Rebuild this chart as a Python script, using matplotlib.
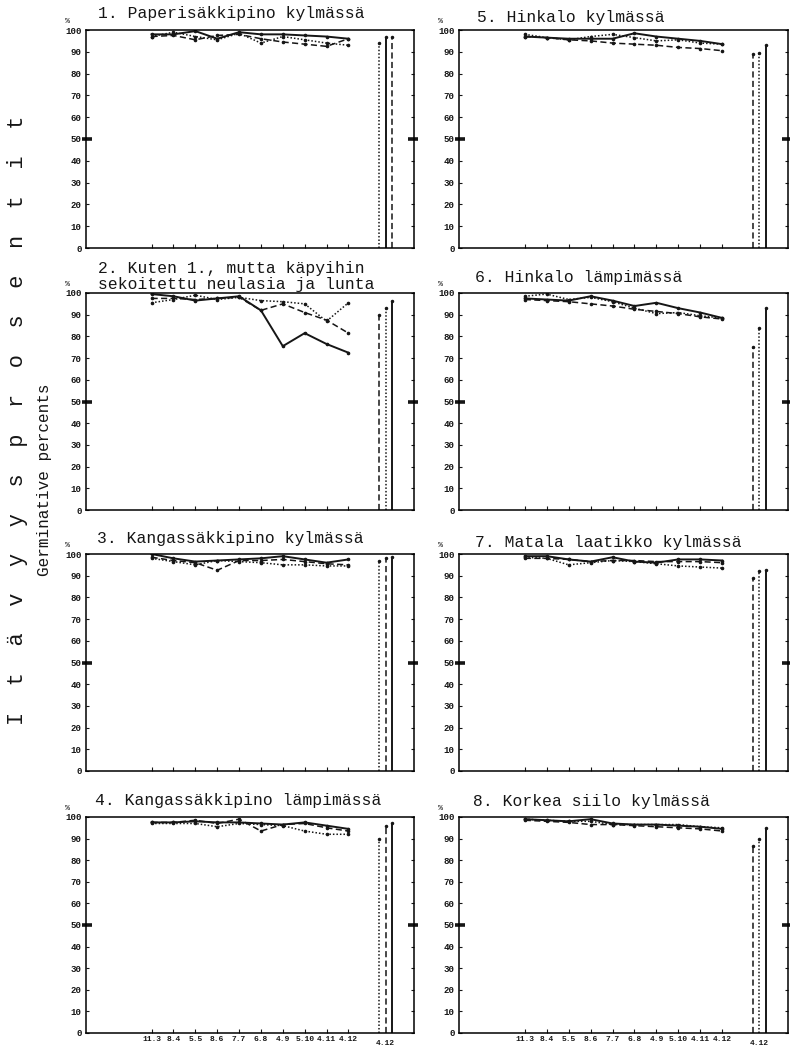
import matplotlib
matplotlib.use('Agg')
import matplotlib.pyplot as plt

plt.rcParams.update({
    'font.family': 'Liberation Mono',
    'axes.linewidth': 1.1,
})

dates = ['11.3', '8.4', '5.5', '8.6', '7.7', '6.8', '4.9', '5.10', '4.11', '4.12']
final_label = '4.12'
x_dates = list(range(len(dates)))
x_final = [10.4, 10.7, 11.0]
y_ticks = [0, 10, 20, 30, 40, 50, 60, 70, 80, 90, 100]

titles = [
    '1. Paperisäkkipino kylmässä',
    '2. Kuten 1., mutta käpyihin\nsekoitettu neulasia ja lunta',
    '3. Kangassäkkipino kylmässä',
    '4. Kangassäkkipino lämpimässä',
    '5. Hinkalo kylmässä',
    '6. Hinkalo lämpimässä',
    '7. Matala laatikko kylmässä',
    '8. Korkea siilo kylmässä',
]

# germinative percent per sampling date: solid, dashed, dotted
p1_solid  = [98, 98, 99.5, 96, 99, 98, 98, 97.5, 97, 96]
p1_dashed = [97, 97.5, 95.5, 97.5, 98, 96, 94.5, 93.5, 92.5, 96]
p1_dotted = [97, 99, 97, 95.5, 98.5, 94, 97, 95.5, 94, 93]

p2_solid  = [99.5, 98.5, 96.5, 97.5, 98.5, 92, 75.5, 81.5, 76.5, 72.5]
p2_dashed = [97.5, 97.5, 97, 97.5, 98, 92, 95, 91, 87.5, 81.5]
p2_dotted = [95.5, 97, 99, 97, 98, 96.5, 96, 95, 87, 95.5]

p3_solid  = [100, 98, 96.5, 97, 97.5, 98, 99, 97.5, 96, 97.5]
p3_dashed = [98.5, 97, 96, 92.5, 97, 97, 97.5, 96.5, 95.5, 95]
p3_dotted = [98, 96.5, 95, 97, 96.5, 96, 95, 95, 94.5, 94.5]

p4_solid  = [97.5, 97.5, 98, 97.5, 97.5, 97, 96.5, 97.5, 96, 94.5]
p4_dashed = [97.5, 97.5, 98.5, 97, 99, 93.5, 96.5, 97, 95, 93.5]
p4_dotted = [97, 97, 97, 95.5, 97, 96.5, 96, 93.5, 92, 92]

p5_solid  = [97, 96.5, 96, 96, 96, 98.5, 97, 96, 95, 93.5]
p5_dashed = [97, 96.5, 95.5, 95, 94, 93.5, 93, 92, 91.5, 90.5]
p5_dotted = [98, 96.5, 95.5, 97, 98, 96.5, 95, 95.5, 94, 93.5]

p6_solid  = [97.5, 97, 96.5, 98.5, 96.5, 94, 95.5, 93, 91, 88.5]
p6_dashed = [97, 96.5, 96, 95, 94, 92.5, 91.5, 90.5, 89, 88]
p6_dotted = [98.5, 99.5, 97, 98, 96, 93, 90.5, 91, 89.5, 88.5]

p7_solid  = [99, 99, 97.5, 96.5, 98.5, 96.5, 96, 97.5, 97.5, 97]
p7_dashed = [98, 98, 97.5, 96.5, 97, 97, 96.5, 96.5, 96.5, 96]
p7_dotted = [98.5, 98, 95, 96, 97, 96.5, 95.5, 94.5, 94, 93.5]

p8_solid  = [99, 98.5, 98, 99, 97, 96.5, 96.5, 96, 95.5, 94.5]
p8_dashed = [98.5, 98, 97.5, 96.5, 96.5, 96, 95.5, 95, 94.5, 93.5]
p8_dotted = [99, 98.5, 98, 98, 96.5, 96.5, 96.5, 96.5, 95.5, 95]

# final test 4.12: (style, value) in left-to-right order
p1_final = [('dotted', 94), ('solid', 97), ('dashed', 97)]
p2_final = [('dashed', 90), ('dotted', 93), ('solid', 96.5)]
p3_final = [('dotted', 97), ('dashed', 98), ('solid', 98.5)]
p4_final = [('dotted', 90), ('dashed', 96), ('solid', 97)]
p5_final = [('dashed', 89), ('dotted', 89.5), ('solid', 93)]
p6_final = [('dashed', 75), ('dotted', 84), ('solid', 93)]
p7_final = [('dashed', 89), ('dotted', 92), ('solid', 92.5)]
p8_final = [('dashed', 86.5), ('dotted', 90), ('solid', 95)]

panels = [
    (p1_solid, p1_dashed, p1_dotted, p1_final),
    (p2_solid, p2_dashed, p2_dotted, p2_final),
    (p3_solid, p3_dashed, p3_dotted, p3_final),
    (p4_solid, p4_dashed, p4_dotted, p4_final),
    (p5_solid, p5_dashed, p5_dotted, p5_final),
    (p6_solid, p6_dashed, p6_dotted, p6_final),
    (p7_solid, p7_dashed, p7_dotted, p7_final),
    (p8_solid, p8_dashed, p8_dotted, p8_final),
]

W, H = 790, 1047
fig = plt.figure(figsize=(W / 100, H / 100), dpi=100)
fig.patch.set_facecolor('white')

col_x = [(86, 414), (459, 788)]
row_y = [(30, 248), (293, 510), (554, 771), (817, 1033)]
title_base = [18, 289, 543, 805, 22, 282, 547, 806]
title_x = [98, 98, 97, 95, 477, 475, 475, 473]

ink = '#161616'
styles = {
    'solid':  dict(linestyle='-', lw=1.4),
    'dashed': dict(linestyle=(0, (4, 2.2)), lw=1.1),
    'dotted': dict(linestyle=(0, (1, 1.3)), lw=1.1),
}

for i, (solid, dashed, dotted, final) in enumerate(panels):
    col, row = divmod(i, 4)
    x0, x1 = col_x[col]
    y0, y1 = row_y[row]
    ax = fig.add_axes([x0 / W, 1 - y1 / H, (x1 - x0) / W, (y1 - y0) / H])
    ax.set_xlim(-3, 12)
    ax.set_ylim(0, 100)

    for vals, key in ((dashed, 'dashed'), (dotted, 'dotted'), (solid, 'solid')):
        ax.plot(x_dates, vals, color=ink, marker='o', ms=1.6, **styles[key])
    for xf, (key, val) in zip(x_final, final):
        ax.vlines(xf, 0, val, color=ink, **styles[key])
        ax.plot([xf], [val], marker='o', ms=1.5, color=ink)

    ax.set_yticks(y_ticks)
    ax.set_yticklabels([str(t) for t in y_ticks], fontsize=6.6, fontweight='bold')
    ax.tick_params(axis='y', direction='in', length=2.5, width=0.8, pad=3,
                   right=True, left=True, colors=ink)
    ax.set_xticks(x_dates)
    ax.tick_params(axis='x', direction='in', length=3, width=0.8, pad=2.5, colors=ink)
    if row == 3:
        ax.set_xticklabels(dates, fontsize=5.8, fontweight='bold')
        ax.text(x_final[1], -3.4, final_label, ha='center', va='top',
                fontsize=5.8, fontweight='bold', color=ink)
    else:
        ax.set_xticklabels([])

    # heavy 50 % marks across both side spines
    ax.plot([-0.012, 0.018], [50, 50], transform=ax.get_yaxis_transform(),
            color=ink, lw=2.6, clip_on=False, solid_capstyle='butt')
    ax.plot([0.982, 1.012], [50, 50], transform=ax.get_yaxis_transform(),
            color=ink, lw=2.6, clip_on=False, solid_capstyle='butt')
    ax.text(-0.055, 1.025, '%', transform=ax.transAxes, fontsize=6,
            ha='center', va='bottom', color=ink)

    fig.text(title_x[i] / W, 1 - title_base[i] / H, titles[i], fontsize=11.8,
             ha='left', va='baseline', linespacing=1.08, color=ink)

fig.text(18 / W, 1 - 420 / H, '  '.join('Itävyysprosentit'), rotation=90,
         ha='center', va='center', fontsize=15.8, color=ink)
fig.text(45 / W, 1 - 480 / H, 'Germinative percents', rotation=90,
         ha='center', va='center', fontsize=11.5, color=ink)

fig.savefig('out.png', dpi=100, facecolor='white')
